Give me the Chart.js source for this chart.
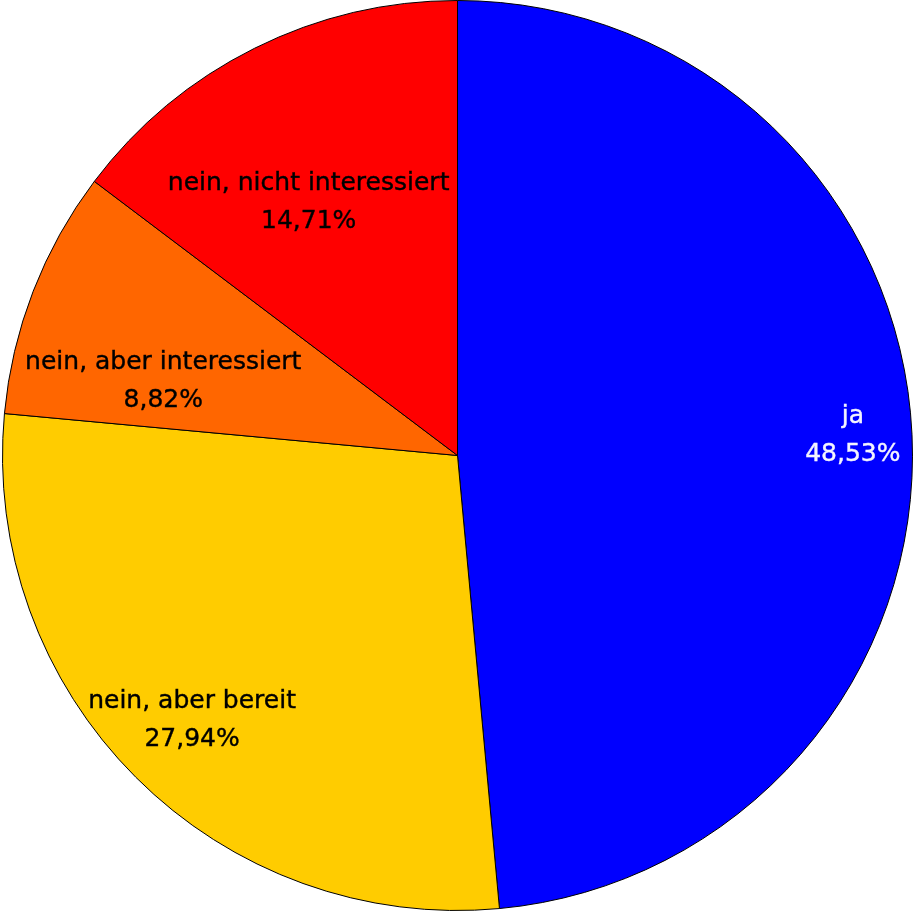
<!DOCTYPE html>
<html>
<head>
<meta charset="utf-8">
<script src="https://cdn.jsdelivr.net/npm/chart.js@4/dist/chart.umd.min.js"></script>
<style>
  html, body { margin: 0; padding: 0; background: #fff; }
  #wrap { width: 915px; height: 911px; }
</style>
</head>
<body>
<div id="wrap"><canvas id="pie"></canvas></div>
<script>
// Daten
const LABELS = ["ja", "nein, aber bereit", "nein, aber interessiert", "nein, nicht interessiert"];
const VALUES = [48.53, 27.94, 8.82, 14.71];
const COLORS = ["#0000ff", "#ffcc00", "#ff6600", "#ff0000"];
const TEXT_COLORS = ["#f4f4ff", "#000000", "#000000", "#000000"];

// Label-Platzierung (Anteil des Radius, Winkelkorrektur in Grad)
const LABEL_POS = [
  { r: 0.87, da: -0.3 },
  { r: 0.825, da: 0 },
  { r: 0.667, da: -7 },
  { r: 0.645, da: -4 }
];

const pieLabels = {
  id: 'pieLabels',
  afterDatasetsDraw(chart) {
    const ctx = chart.ctx;
    const meta = chart.getDatasetMeta(0);
    ctx.save();
    ctx.font = '25px "DejaVu Sans"';
    ctx.textAlign = 'center';
    ctx.textBaseline = 'middle';
    ctx.lineWidth = 0.4;
    meta.data.forEach((arc, i) => {
      const p = arc.getProps(['x', 'y', 'startAngle', 'endAngle', 'outerRadius'], true);
      const mid = (p.startAngle + p.endAngle) / 2 + LABEL_POS[i].da * Math.PI / 180;
      const d = p.outerRadius * LABEL_POS[i].r;
      const cx = p.x + Math.cos(mid) * d;
      const cy = p.y + Math.sin(mid) * d;
      const pct = VALUES[i].toFixed(2).replace('.', ',') + '%';
      ctx.fillStyle = TEXT_COLORS[i];
      ctx.strokeStyle = TEXT_COLORS[i];
      ctx.fillText(LABELS[i], cx, cy - 19);
      ctx.strokeText(LABELS[i], cx, cy - 19);
      ctx.fillText(pct, cx, cy + 19);
      ctx.strokeText(pct, cx, cy + 19);
    });
    ctx.restore();
  }
};

new Chart(document.getElementById('pie'), {
  type: 'pie',
  data: {
    labels: LABELS,
    datasets: [{
      data: VALUES,
      backgroundColor: COLORS,
      borderColor: '#000000',
      borderWidth: 1
    }]
  },
  options: {
    responsive: true,
    maintainAspectRatio: false,
    animation: false,
    layout: { padding: 0 },
    plugins: {
      legend: { display: false },
      tooltip: { enabled: false }
    }
  },
  plugins: [pieLabels]
});
</script>
</body>
</html>
